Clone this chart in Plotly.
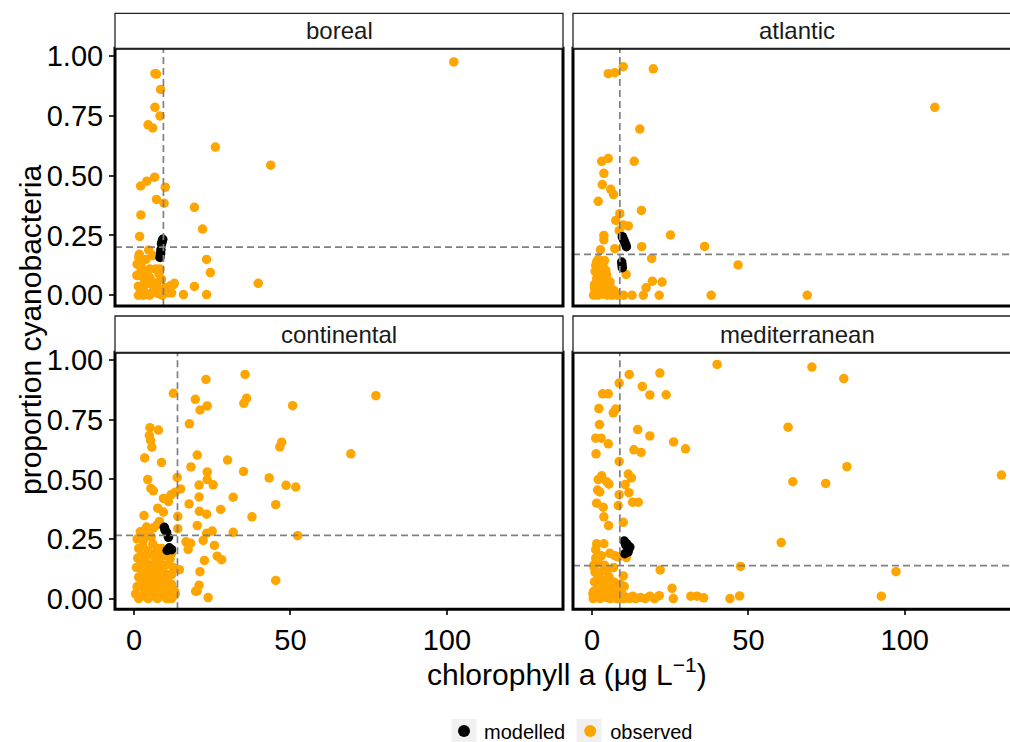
import plotly.graph_objects as go

# ---------------- data ----------------
regions = ["boreal", "atlantic", "continental", "mediterranean"]

boreal_obs_x = [102.2, 6.7, 7.2, 8.5, 6.7, 8.3, 4.5, 6.0, 26.0, 43.7, 2.1, 4.1, 6.6, 10.0, 7.2, 9.6, 19.3, 2.2,
                21.9, 1.8, 4.7, 6.0, 1.7, 1.5, 2.6, 23.2, 24.4, 5.0, 7.0, 8.3, 1.5, 2.3, 39.7, 19.3, 12.9, 15.8,
                23.2, 11.7, 12.0, 0.9, 2.5, 3.5, 5.1, 7.2, 8.8, 1.4, 3.0, 6.2, 8.3, 9.9, 12.6, 1.9, 4.1, 5.6, 7.8,
                9.4, 11.0, 1.4, 3.0, 2.0, 3.5, 4.5, 6.5, 8.0, 9.0, 2.8, 5.0, 1.0, 3.8]
boreal_obs_y = [0.976, 0.927, 0.925, 0.861, 0.786, 0.75, 0.713, 0.70, 0.62, 0.544, 0.457, 0.477, 0.494, 0.452,
                0.401, 0.385, 0.368, 0.336, 0.277, 0.246, 0.189, 0.166, 0.171, 0.16, 0.14, 0.15, 0.095, 0.11, 0.11,
                0.11, 0.087, 0.085, 0.05, 0.037, 0.05, 0.003, 0.003, 0.04, 0.01, 0.083, 0.08, 0.059, 0.073, 0.052,
                0.066, 0.038, 0.038, 0.044, 0.024, 0.031, 0.044, 0.007, 0.003, 0.01, 0.007, 0.017, 0.01, 0.0, 0.02,
                0.12, 0.1, 0.05, 0.02, 0.09, 0.0, 0.0, 0.0, 0.13, 0.15]
boreal_mod_x = [9.2, 9.0, 8.8, 8.6, 8.5, 8.3]
boreal_mod_y = [0.234, 0.225, 0.215, 0.19, 0.175, 0.158]

atlantic_obs_x = [10.0, 5.2, 7.3, 19.6, 109.6, 15.3, 3.1, 5.2, 13.5, 3.8, 3.3, 6.0, 6.9, 2.0, 15.8, 8.9, 7.6,
                  10.0, 11.6, 25.1, 8.7, 3.8, 3.8, 15.9, 36.0, 7.3, 2.7, 19.1, 2.0, 4.0, 46.7, 10.9, 19.3, 22.4,
                  17.3, 10.1, 12.8, 16.4, 21.5, 38.1, 68.8,
                  1.5, 2.6, 3.6, 1.0, 2.6, 3.6, 4.7, 1.5, 2.6, 4.0, 5.8, 0.8, 2.0, 3.2, 4.7, 6.0, 7.0, 1.0, 2.2,
                  3.5, 5.0, 6.5, 8.0, 0.5, 1.8, 2.8, 4.2, 6.0, 3.0, 2.2, 4.4, 1.2, 3.0, 5.4, 0.8, 7.6]
atlantic_obs_y = [0.956, 0.927, 0.931, 0.947, 0.786, 0.695, 0.56, 0.572, 0.56, 0.51, 0.463, 0.443, 0.421, 0.393,
                  0.355, 0.341, 0.313, 0.294, 0.29, 0.252, 0.27, 0.25, 0.232, 0.203, 0.204, 0.195, 0.19, 0.154,
                  0.15, 0.145, 0.127, 0.087, 0.059, 0.055, 0.031, 0.0, 0.0, 0.0, 0.0, 0.0, 0.0,
                  0.14, 0.13, 0.12, 0.10, 0.1, 0.09, 0.085, 0.07, 0.065, 0.06, 0.055, 0.045, 0.04, 0.035, 0.03,
                  0.03, 0.02, 0.015, 0.01, 0.005, 0.0, 0.0, 0.0, 0.0, 0.0, 0.02, 0.012, 0.008, 0.075, 0.11, 0.105,
                  0.125, 0.05, 0.045, 0.03, 0.005]
atlantic_mod_x = [9.7, 10.0, 10.3, 10.7, 11.0, 9.5, 9.6, 9.7]
atlantic_mod_y = [0.245, 0.236, 0.227, 0.215, 0.203, 0.139, 0.127, 0.115]

continental_obs_x = [35.5, 23.0, 77.3, 12.6, 19.6, 23.4, 21.1, 36.0, 35.1, 50.7, 17.7, 5.1, 7.8, 4.9, 5.3, 5.7,
                     47.2, 46.6, 69.3, 20.2, 3.4, 8.8, 29.9, 18.2, 35.0, 23.4, 23.4, 25.3, 43.2, 48.6, 51.7, 13.8,
                     4.4, 5.4, 6.2, 20.8, 14.9, 13.1, 11.8, 9.4, 11.0, 31.7, 20.8, 17.6, 45.3, 7.6, 9.4, 27.7, 20.9,
                     23.2, 3.2, 37.7, 14.0, 8.1, 20.2, 6.2, 14.0, 25.0, 23.2, 31.7, 52.3, 3.5, 2.8, 16.6, 18.1, 22.1,
                     17.3, 25.7, 12.0, 9.5, 7.1, 8.9, 22.5, 26.6, 28.0, 14.5, 21.1, 45.3, 20.8, 20.2, 19.7, 23.7,
                     12.0, 12.5, 12.0, 13.2,
                     0.5, 1.5, 2.5, 3.5, 4.5, 5.5, 6.5, 7.5, 8.5, 9.5, 10.5, 11.5, 12.5, 13.0,
                     1.0, 2.0, 3.0, 4.0, 5.0, 6.0, 7.0, 8.0, 9.0, 10.0, 11.0, 12.0,
                     1.5, 2.5, 3.5, 4.5, 5.5, 6.5, 7.5, 8.5, 9.5, 10.5, 11.5,
                     0.8, 2.0, 3.0, 4.0, 5.0, 6.0, 7.0, 8.5, 10.0, 12.5,
                     1.2, 2.5, 3.5, 5.0, 6.5, 8.0, 9.5, 11.5,
                     1.5, 2.8, 4.5, 6.0, 7.5, 1.0, 3.0, 5.5, 2.0, 4.0, 7.5]
continental_obs_y = [0.94, 0.919, 0.851, 0.861, 0.836, 0.808, 0.791, 0.84, 0.819, 0.809, 0.733, 0.717, 0.707,
                     0.684, 0.663, 0.635, 0.656, 0.636, 0.607, 0.602, 0.59, 0.571, 0.581, 0.552, 0.533, 0.531,
                     0.499, 0.477, 0.506, 0.475, 0.468, 0.508, 0.499, 0.462, 0.452, 0.476, 0.46, 0.446, 0.435,
                     0.42, 0.407, 0.425, 0.426, 0.397, 0.394, 0.379, 0.363, 0.374, 0.366, 0.354, 0.348, 0.343,
                     0.345, 0.323, 0.306, 0.297, 0.293, 0.283, 0.274, 0.278, 0.264, 0.283, 0.25, 0.238, 0.232,
                     0.244, 0.206, 0.223, 0.19, 0.186, 0.19, 0.21, 0.16, 0.178, 0.163, 0.121, 0.113, 0.076, 0.056,
                     0.032, 0.031, 0.004, 0.1, 0.04, 0.0, 0.02,
                     0.02, 0.0, 0.01, 0.03, 0.0, 0.02, 0.01, 0.0, 0.03, 0.01, 0.0, 0.02, 0.01, 0.03,
                     0.05, 0.06, 0.045, 0.07, 0.05, 0.065, 0.04, 0.06, 0.05, 0.07, 0.045, 0.06,
                     0.09, 0.1, 0.085, 0.11, 0.095, 0.08, 0.1, 0.09, 0.11, 0.085, 0.1,
                     0.13, 0.14, 0.12, 0.15, 0.13, 0.14, 0.125, 0.13, 0.14, 0.13,
                     0.17, 0.18, 0.165, 0.19, 0.175, 0.16, 0.18, 0.165,
                     0.21, 0.22, 0.2, 0.23, 0.21, 0.25, 0.245, 0.26, 0.28, 0.3, 0.31]
continental_mod_x = [9.7, 9.9, 10.4, 11.0, 11.3, 12.0, 10.6]
continental_mod_y = [0.299, 0.288, 0.278, 0.257, 0.213, 0.205, 0.202]

mediterranean_obs_x = [40.0, 70.3, 80.5, 11.9, 21.7, 8.7, 16.1, 18.5, 23.7, 3.4, 5.2, 2.2, 7.6, 6.8, 2.4, 62.7,
                       14.6, 18.5, 1.2, 2.9, 5.2, 26.1, 29.9, 13.4, 15.7, 1.3, 8.7, 81.5, 130.9, 64.2, 74.7, 3.1,
                       2.0, 4.7, 5.4, 11.6, 12.6, 10.6, 1.8, 2.5, 8.7, 11.8, 1.5, 3.6, 8.4, 13.0, 14.8, 3.8, 10.0,
                       5.3, 60.5, 1.5, 3.8, 1.2, 5.7, 7.3, 8.4, 11.0, 0.7, 6.9, 47.5, 21.8, 97.2, 10.0, 25.6, 10.3,
                       8.4, 21.5, 26.0, 31.6, 33.6, 35.7, 44.1, 47.2, 92.5,
                       0.4, 1.5, 2.6, 3.6, 4.7, 5.8, 6.8, 7.9, 8.9, 10.0, 11.0, 12.0, 13.0, 14.0, 15.5, 17.0, 18.5,
                       20.0, 0.5, 1.5, 2.6, 3.6, 4.7, 5.8, 6.8, 8.0, 0.8, 1.8, 3.0, 4.2, 5.5, 7.0, 2.2, 1.0, 3.4, 5.0,
                       0.6, 2.0, 4.0, 1.2, 3.0, 9.0, 0.3, 2.0, 4.2, 6.2, 7.4, 9.6]
mediterranean_obs_y = [0.982, 0.971, 0.923, 0.94, 0.946, 0.904, 0.89, 0.854, 0.855, 0.859, 0.859, 0.797, 0.795,
                       0.779, 0.73, 0.719, 0.709, 0.682, 0.673, 0.673, 0.649, 0.657, 0.628, 0.624, 0.613, 0.607,
                       0.575, 0.553, 0.518, 0.49, 0.483, 0.515, 0.499, 0.49, 0.48, 0.522, 0.506, 0.478, 0.455, 0.447,
                       0.436, 0.444, 0.4, 0.383, 0.39, 0.404, 0.404, 0.343, 0.32, 0.306, 0.235, 0.23, 0.23, 0.205,
                       0.19, 0.18, 0.175, 0.172, 0.13, 0.13, 0.135, 0.12, 0.113, 0.095, 0.043, 0.051, 0.042, 0.012,
                       0.0, 0.01, 0.01, 0.003, 0.0, 0.011, 0.01,
                       0.0, 0.01, 0.0, 0.02, 0.005, 0.0, 0.015, 0.0, 0.01, 0.0, 0.005, 0.0, 0.01, 0.0, 0.005, 0.0,
                       0.01, 0.0, 0.03, 0.04, 0.035, 0.05, 0.03, 0.045, 0.03, 0.04, 0.07, 0.08, 0.065, 0.075, 0.09,
                       0.07, 0.1, 0.11, 0.115, 0.12, 0.14, 0.15, 0.14, 0.17, 0.18, 0.06, 0.02, 0.02, 0.015, 0.025,
                       0.01, 0.02]
mediterranean_mod_x = [10.3, 11.1, 12.1, 11.6, 10.5, 10.8, 11.5]
mediterranean_mod_y = [0.241, 0.23, 0.216, 0.202, 0.188, 0.225, 0.195]

# dashed reference lines per region
ref_vline = [9.4, 8.9, 13.9, 8.9]
ref_hline = [0.201, 0.171, 0.265, 0.138]

y_tickvals = [0, 0.25, 0.5, 0.75, 1.0]
y_ticktext = ["0.00", "0.25", "0.50", "0.75", "1.00"]
x_tickvals = [0, 50, 100]
x_ticktext = ["0", "50", "100"]

obs = {
    "boreal": (boreal_obs_x, boreal_obs_y),
    "atlantic": (atlantic_obs_x, atlantic_obs_y),
    "continental": (continental_obs_x, continental_obs_y),
    "mediterranean": (mediterranean_obs_x, mediterranean_obs_y),
}
mod = {
    "boreal": (boreal_mod_x, boreal_mod_y),
    "atlantic": (atlantic_mod_x, atlantic_mod_y),
    "continental": (continental_mod_x, continental_mod_y),
    "mediterranean": (mediterranean_mod_x, mediterranean_mod_y),
}

# ---------------- layout geometry ----------------
W, H = 1010, 742
FONT = "Liberation Sans, Arial, sans-serif"
ORANGE = "#FFA500"

def px(x):
    return x / W

def py(y):
    return 1 - y / H

x_dom = [[px(115), px(563)], [px(573), 1.0]]
y_dom = [[py(306), py(48.3)], [py(609.3), py(352.3)]]
strip_y = [[py(48.3), py(13.3)], [py(352.3), py(316)]]
x_rng = [[-6.07, 137.1], [-6.07, -6.07 + 437 / 3.128]]
y_rng = [-0.045, 1.033]

fig = go.Figure()
layout = dict(
    width=W, height=H,
    margin=dict(l=0, r=0, t=0, b=0, autoexpand=False),
    paper_bgcolor="white", plot_bgcolor="white",
    font=dict(family=FONT, color="black"),
    showlegend=True,
)

shapes = []
annotations = []

for i, reg in enumerate(regions):
    r, c = divmod(i, 2)
    n = i + 1
    xa = "x" if n == 1 else f"x{n}"
    ya = "y" if n == 1 else f"y{n}"
    xkey = "xaxis" if n == 1 else f"xaxis{n}"
    ykey = "yaxis" if n == 1 else f"yaxis{n}"
    bottom = r == 1
    left = c == 0
    layout[xkey] = dict(
        domain=x_dom[c], range=x_rng[c], anchor=ya, showgrid=False, zeroline=False,
        showline=False, tickvals=x_tickvals, ticktext=x_ticktext, automargin=False,
        showticklabels=bottom, ticks="outside" if bottom else "", ticklen=5, tickwidth=2,
        tickcolor="#333333", tickfont=dict(size=29, color="black", family=FONT),
    )
    layout[ykey] = dict(
        domain=y_dom[r], range=y_rng, anchor=xa, showgrid=False, zeroline=False,
        showline=False, tickvals=y_tickvals, ticktext=y_ticktext, automargin=False,
        showticklabels=left, ticks="outside" if left else "", ticklen=5, tickwidth=2,
        tickcolor="#333333", tickfont=dict(size=29, color="black", family=FONT),
    )
    ox, oy = obs[reg]
    mx, my = mod[reg]
    fig.add_trace(go.Scatter(
        x=ox, y=oy, mode="markers", xaxis=xa, yaxis=ya,
        marker=dict(color=ORANGE, size=9.5, line=dict(width=0)),
        name="observed", legendgroup="observed", showlegend=(i == 0), legendrank=2,
    ))
    fig.add_trace(go.Scatter(
        x=mx, y=my, mode="markers", xaxis=xa, yaxis=ya,
        marker=dict(color="black", size=9.5, line=dict(width=0)),
        name="modelled", legendgroup="modelled", showlegend=(i == 0), legendrank=1,
    ))
    # dashed reference lines
    shapes.append(dict(type="line", xref=xa, yref=f"{ya} domain", x0=ref_vline[i], x1=ref_vline[i],
                       y0=0, y1=1, line=dict(color="#808080", width=1.7, dash="7px,4px"), layer="above"))
    shapes.append(dict(type="line", xref=f"{xa} domain", yref=ya, x0=0, x1=1, y0=ref_hline[i], y1=ref_hline[i],
                       line=dict(color="#808080", width=1.7, dash="7px,4px"), layer="above"))
    # panel border
    x1 = x_dom[c][1] if c == 0 else 1.02
    shapes.append(dict(type="rect", xref="paper", yref="paper", x0=x_dom[c][0], x1=x1,
                       y0=y_dom[r][0], y1=y_dom[r][1], line=dict(color="black", width=3),
                       fillcolor="rgba(0,0,0,0)", layer="above"))
    # strip
    shapes.append(dict(type="rect", xref="paper", yref="paper", x0=x_dom[c][0], x1=x1,
                       y0=strip_y[r][0], y1=strip_y[r][1], line=dict(color="#222222", width=1.3),
                       fillcolor="white", layer="above"))
    annotations.append(dict(text=reg, xref="paper", yref="paper",
                            x=(x_dom[c][0] + (x_dom[c][1] if c == 0 else px(573 + 448))) / 2,
                            y=(strip_y[r][0] + strip_y[r][1]) / 2, showarrow=False,
                            xanchor="center", yanchor="middle",
                            font=dict(size=24, color="#1a1a1a", family=FONT)))

# light grey legend key backgrounds (ggplot-style)
for cx in (464, 589):
    shapes.append(dict(type="rect", xref="paper", yref="paper", x0=px(cx - 12.5), x1=px(cx + 12.5),
                       y0=py(743), y1=py(719), line=dict(width=0), fillcolor="#F0F0F0", layer="below"))

annotations.append(dict(text="chlorophyll a (\u03bcg L<sup>\u22121</sup>)", xref="paper", yref="paper",
                        x=px(567), y=py(672), showarrow=False, xanchor="center", yanchor="middle",
                        font=dict(size=30, color="black", family=FONT)))
annotations.append(dict(text="proportion cyanobacteria", xref="paper", yref="paper",
                        x=px(30), y=py(330), showarrow=False, xanchor="center", yanchor="middle",
                        textangle=-90, font=dict(size=30, color="black", family=FONT)))

layout["shapes"] = shapes
layout["annotations"] = annotations
layout["legend"] = dict(orientation="h", x=px(571), y=py(731), xanchor="center", yanchor="middle",
                        font=dict(size=20, color="black", family=FONT), bgcolor="rgba(0,0,0,0)",
                        itemsizing="constant", traceorder="normal")
fig.update_layout(**layout)

fig.write_html("out.html")
